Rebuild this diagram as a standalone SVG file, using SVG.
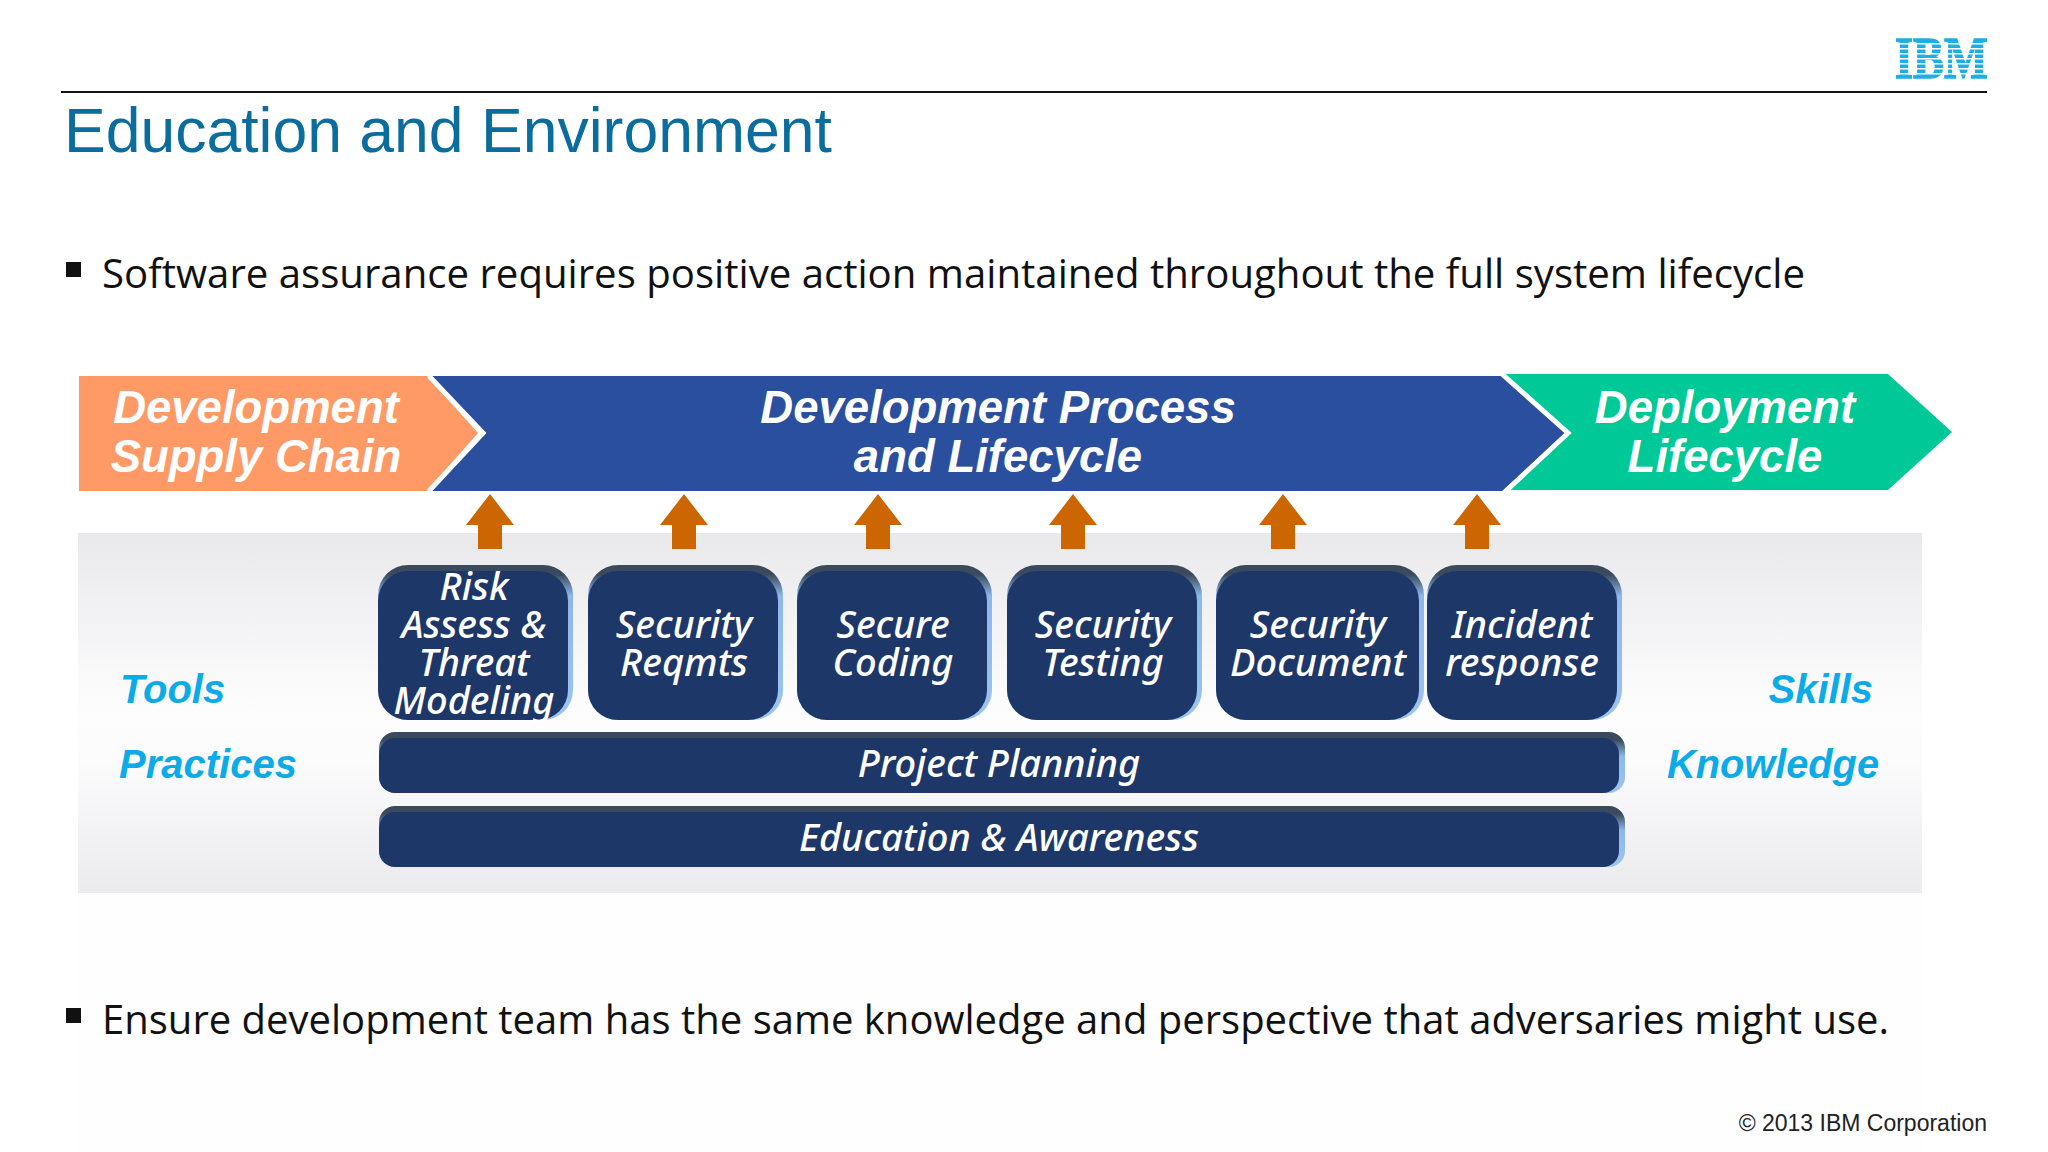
<svg xmlns="http://www.w3.org/2000/svg" width="2048" height="1152" viewBox="0 0 2048 1152">
<style>
.t{font-family:"Liberation Sans",Arial,sans-serif;}
.b{font-family:"Open Sans","Noto Sans",sans-serif;font-size:40px;fill:#111;}
.h{font-family:"Liberation Sans",Arial,sans-serif;font-size:45.500px;font-weight:bold;font-style:italic;fill:#fff;text-anchor:middle;}
.s{font-family:"Liberation Sans",Arial,sans-serif;font-size:40px;font-weight:bold;font-style:italic;fill:#0cabe8;}
.n{font-family:"Noto Sans","Open Sans",sans-serif;font-size:38px;font-weight:500;font-style:italic;fill:#fff;text-anchor:middle;}
.bev{fill:url(#bv);}
.bevl{fill:url(#bl);}
.face{fill:#1e3769;}
.up{fill:#cc6600;}
</style>
<defs>
<linearGradient id="pg" x1="0" y1="0" x2="0" y2="1">
<stop offset="0" stop-color="#e9e9eb"/>
<stop offset="0.5" stop-color="#fdfdfe"/>
<stop offset="0.62" stop-color="#fcfcfd"/>
<stop offset="1" stop-color="#ebebee"/>
</linearGradient>
<linearGradient id="bv" x1="0" y1="0" x2="0" y2="1">
<stop offset="0" stop-color="#3a4a5c"/><stop offset="0.06" stop-color="#3a4a5c"/><stop offset="0.2" stop-color="#8db8ea"/><stop offset="1" stop-color="#9cc4f0"/>
</linearGradient>
<linearGradient id="bl" x1="0" y1="0" x2="0" y2="1">
<stop offset="0" stop-color="#3a4a5c"/><stop offset="0.13" stop-color="#3a4a5c"/><stop offset="0.4" stop-color="#8db8ea"/><stop offset="1" stop-color="#9cc4f0"/>
</linearGradient>
<path id="arrow" d="M0 0L24 31L12 31L12 55L-12 55L-12 31L-24 31Z"/>
</defs>
<rect width="2048" height="1152" fill="#fff"/>
<rect x="78" y="892" width="1844" height="260" fill="#fefefe"/>
<g id="logo">
<text x="1895" y="78" style="font-family:'Liberation Serif',serif;font-weight:bold;font-size:60px" fill="#1eaee4" stroke="#1eaee4" stroke-width="1.500" textLength="93" lengthAdjust="spacingAndGlyphs">IBM</text>
<g fill="#fff"><rect x="1890" y="43" width="104" height="1.500"/><rect x="1890" y="48" width="104" height="1.500"/><rect x="1890" y="53" width="104" height="1.500"/><rect x="1890" y="58" width="104" height="1.500"/><rect x="1890" y="63" width="104" height="1.500"/><rect x="1890" y="68" width="104" height="1.500"/><rect x="1890" y="73" width="104" height="1.500"/></g>
</g>
<line x1="61" y1="92" x2="1987" y2="92" stroke="#111" stroke-width="2"/>
<text x="64" y="152" class="t" font-size="62.500" fill="#0a6d9e">Education and Environment</text>
<rect x="66" y="262" width="15" height="15" fill="#111"/>
<text x="102" y="288" class="b" textLength="1703" lengthAdjust="spacingAndGlyphs">Software assurance requires positive action maintained throughout the full system lifecycle</text>
<rect x="66" y="1008" width="15" height="15" fill="#111"/>
<text x="102" y="1034" class="b" textLength="1787" lengthAdjust="spacingAndGlyphs">Ensure development team has the same knowledge and perspective that adversaries might use.</text>
<text x="1987" y="1131" class="t" font-size="23" fill="#222" text-anchor="end">© 2013 IBM Corporation</text>

<rect x="78" y="533" width="1844" height="360" fill="url(#pg)"/>

<g id="deployment"><path d="M1502 374H1888L1952 432L1888 490H1508L1570 432Z" fill="#00c896"/>
<text class="h" x="1725" y="423">Deployment</text><text class="h" x="1725" y="472">Lifecycle</text></g>
<g id="process"><path d="M431 376H1502L1568 433L1502 491H431L486 433Z" fill="#2b4f9f"/>
<path d="M1502 374L1568 433L1506 491" fill="none" stroke="#fff" stroke-width="5"/>
<text class="h" x="998" y="423">Development Process</text><text class="h" x="998" y="472">and Lifecycle</text></g>
<g id="supply"><path d="M79 376H427L478 433L427 491H79Z" fill="#ff9966"/>
<path d="M429 376L483 433L429 491" fill="none" stroke="#fff" stroke-width="5"/>
<text class="h" x="256" y="423">Development</text><text class="h" x="256" y="472">Supply Chain</text></g>

<g id="connectors" class="up">
<use href="#arrow" x="490" y="494"/><use href="#arrow" x="684" y="494"/><use href="#arrow" x="878" y="494"/><use href="#arrow" x="1073" y="494"/><use href="#arrow" x="1283" y="494"/><use href="#arrow" x="1477" y="494"/>
</g>

<text class="s" x="120" y="703">Tools</text>
<text class="s" x="119" y="778">Practices</text>
<text class="s" x="1873" y="703" text-anchor="end">Skills</text>
<text class="s" x="1879" y="778" text-anchor="end" textLength="212" lengthAdjust="spacingAndGlyphs">Knowledge</text>

<g id="n1"><rect class="bev" x="378" y="565" width="195" height="155" rx="30"/><rect class="face" x="378" y="571" width="190" height="149" rx="30"/>
<text class="n" x="474" y="600">Risk</text><text class="n" x="474" y="638">Assess &amp;</text><text class="n" x="474" y="676">Threat</text><text class="n" x="474" y="714">Modeling</text></g>
<g id="n2"><rect class="bev" x="588" y="565" width="195" height="155" rx="30"/><rect class="face" x="588" y="571" width="190" height="149" rx="30"/>
<text class="n" x="684" y="638">Security</text><text class="n" x="684" y="676">Reqmts</text></g>
<g id="n3"><rect class="bev" x="797" y="565" width="195" height="155" rx="30"/><rect class="face" x="797" y="571" width="190" height="149" rx="30"/>
<text class="n" x="893" y="638">Secure</text><text class="n" x="893" y="676">Coding</text></g>
<g id="n4"><rect class="bev" x="1007" y="565" width="195" height="155" rx="30"/><rect class="face" x="1007" y="571" width="190" height="149" rx="30"/>
<text class="n" x="1103" y="638">Security</text><text class="n" x="1103" y="676">Testing</text></g>
<g id="n5"><rect class="bev" x="1216" y="565" width="208" height="155" rx="30"/><rect class="face" x="1216" y="571" width="203" height="149" rx="30"/>
<text class="n" x="1318" y="638">Security</text><text class="n" x="1318" y="676">Document</text></g>
<g id="n6"><rect class="bev" x="1427" y="565" width="195" height="155" rx="30"/><rect class="face" x="1427" y="571" width="190" height="149" rx="30"/>
<text class="n" x="1522" y="638">Incident</text><text class="n" x="1522" y="676">response</text></g>
<g id="n7"><rect class="bevl" x="379" y="732" width="1246" height="61" rx="16"/><rect class="face" x="379" y="738" width="1240" height="55" rx="16"/>
<text class="n" x="999" y="777">Project Planning</text></g>
<g id="n8"><rect class="bevl" x="379" y="806" width="1246" height="61" rx="16"/><rect class="face" x="379" y="812" width="1240" height="55" rx="16"/>
<text class="n" x="999" y="851" textLength="400" lengthAdjust="spacingAndGlyphs">Education &amp; Awareness</text></g>
</svg>
